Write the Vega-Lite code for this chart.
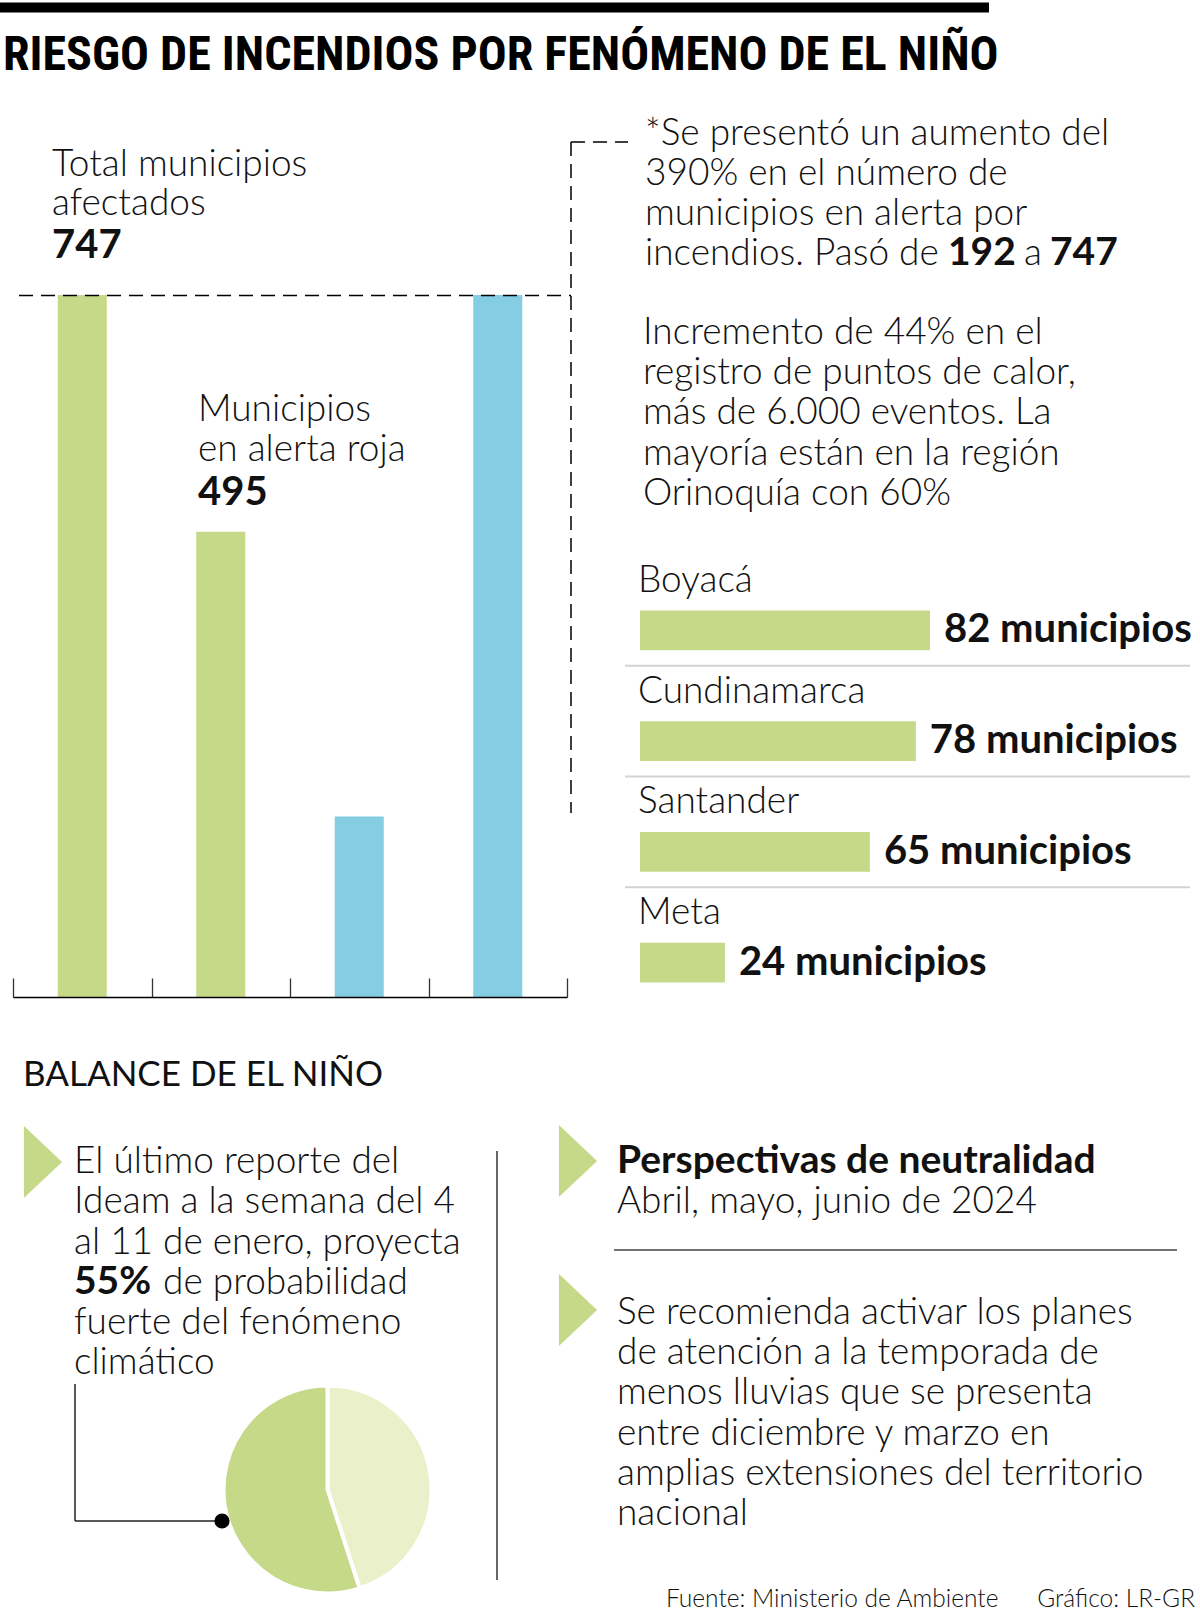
{
  "$schema": "https://vega.github.io/schema/vega-lite/v6.json",
  "width": 1200,
  "height": 1619,
  "autosize": "none",
  "padding": 0,
  "background": "#ffffff",
  "config": {
    "view": {"stroke": null},
    "text": {"font": "Lato", "fontWeight": 300, "fontSize": 37, "color": "#111111", "align": "left", "baseline": "alphabetic"}
  },
  "data": {"values": [{}]},
  "datasets": {
    "municipios": [
      {"indicador": "Total municipios afectados", "grupo": "Balance", "valor": 747},
      {"indicador": "Municipios en alerta roja", "grupo": "Balance", "valor": 495},
      {"indicador": "Alerta por incendios (antes)", "grupo": "Alerta por incendios", "valor": 192},
      {"indicador": "Alerta por incendios (ahora)", "grupo": "Alerta por incendios", "valor": 747}
    ],
    "departamentos": [
      {"departamento": "Boyacá", "municipios": 82, "etiqueta": "82 municipios"},
      {"departamento": "Cundinamarca", "municipios": 78, "etiqueta": "78 municipios"},
      {"departamento": "Santander", "municipios": 65, "etiqueta": "65 municipios"},
      {"departamento": "Meta", "municipios": 24, "etiqueta": "24 municipios"}
    ],
    "probabilidad": [
      {"escenario": "Otros escenarios", "porcentaje": 45},
      {"escenario": "El Niño fuerte", "porcentaje": 55}
    ]
  },
  "layer": [
    {"mark": {"type": "rule", "strokeWidth": 10, "color": "#000000"}, "encoding": {"x": {"value": 0}, "x2": {"value": 989}, "y": {"value": 7.5}}},
    {"mark": {"type": "text", "text": "RIESGO DE INCENDIOS POR FENÓMENO DE EL NIÑO", "font": "Liberation Sans Narrow, Noto Sans Condensed, Roboto Condensed, DejaVu Sans Condensed, sans-serif", "fontWeight": "bold", "fontSize": 48, "color": "#000000"}, "encoding": {"x": {"value": 3}, "y": {"value": 70}}},
    {
      "data": {"name": "municipios"},
      "mark": {"type": "bar", "width": {"band": 0.354}},
      "encoding": {
        "x": {"field": "indicador", "type": "nominal", "sort": null,
              "scale": {"type": "band", "domain": ["Total municipios afectados", "Municipios en alerta roja", "Alerta por incendios (antes)", "Alerta por incendios (ahora)"], "range": [13, 567], "paddingInner": 0, "paddingOuter": 0},
              "axis": {"orient": "top", "offset": -997, "labels": false, "title": null, "grid": false, "tickBand": "extent", "tickSize": 19, "tickColor": "#333333", "tickWidth": 1.3, "domainColor": "#000000", "domainWidth": 1.5, "zindex": 1}},
        "y": {"field": "valor", "type": "quantitative", "scale": {"domain": [0, 747], "range": [997, 295], "nice": false}, "axis": null},
        "color": {"field": "grupo", "type": "nominal", "scale": {"domain": ["Balance", "Alerta por incendios"], "range": ["#C5D988", "#85CDE3"]}, "legend": null}
      }
    },
    {
      "data": {"name": "municipios"},
      "transform": [{"filter": "datum.indicador == 'Total municipios afectados'"}],
      "mark": {"type": "text", "fontWeight": "bold", "fontSize": 40, "dx": 39, "dy": -37},
      "encoding": {
        "x": {"field": "indicador", "type": "nominal", "sort": null, "bandPosition": 0,
              "scale": {"type": "band", "domain": ["Total municipios afectados", "Municipios en alerta roja", "Alerta por incendios (antes)", "Alerta por incendios (ahora)"], "range": [13, 567], "paddingInner": 0, "paddingOuter": 0}, "axis": null},
        "y": {"field": "valor", "type": "quantitative", "scale": {"domain": [0, 747], "range": [997, 295], "nice": false}, "axis": null},
        "text": {"field": "valor", "type": "quantitative"}
      }
    },
    {
      "data": {"name": "municipios"},
      "transform": [{"filter": "datum.indicador == 'Municipios en alerta roja'"}],
      "mark": {"type": "text", "fontWeight": "bold", "fontSize": 40, "dx": 46.5, "dy": -27},
      "encoding": {
        "x": {"field": "indicador", "type": "nominal", "sort": null, "bandPosition": 0,
              "scale": {"type": "band", "domain": ["Total municipios afectados", "Municipios en alerta roja", "Alerta por incendios (antes)", "Alerta por incendios (ahora)"], "range": [13, 567], "paddingInner": 0, "paddingOuter": 0}, "axis": null},
        "y": {"field": "valor", "type": "quantitative", "scale": {"domain": [0, 747], "range": [997, 295], "nice": false}, "axis": null},
        "text": {"field": "valor", "type": "quantitative"}
      }
    },
    {"mark": {"type": "text", "lineHeight": 39, "text": ["Total municipios", "afectados"]}, "encoding": {"x": {"value": 52}, "y": {"value": 176}}},
    {"mark": {"type": "text", "lineHeight": 40, "text": ["Municipios", "en alerta roja"]}, "encoding": {"x": {"value": 198}, "y": {"value": 421}}},
    {"mark": {"type": "rule", "strokeWidth": 1.5, "strokeDash": [14, 8], "color": "#000000"}, "encoding": {"x": {"value": 19}, "x2": {"value": 571}, "y": {"value": 295.5}}},
    {"mark": {"type": "rule", "strokeWidth": 1.5, "strokeDash": [14, 8], "color": "#000000"}, "encoding": {"x": {"value": 571}, "y": {"value": 142}, "y2": {"value": 813}}},
    {"mark": {"type": "rule", "strokeWidth": 1.5, "strokeDash": [14, 8], "color": "#000000"}, "encoding": {"x": {"value": 571}, "x2": {"value": 628}, "y": {"value": 142}}},
    {"mark": {"type": "text", "lineHeight": 40, "text": ["*Se presentó un aumento del", "390% en el número de", "municipios en alerta por", "incendios. Pasó de"]}, "encoding": {"x": {"value": 645}, "y": {"value": 145}}},
    {"mark": {"type": "text", "fontWeight": "bold", "fontSize": 39, "text": "192"}, "encoding": {"x": {"value": 948}, "y": {"value": 265}}},
    {"mark": {"type": "text", "text": "a"}, "encoding": {"x": {"value": 1024}, "y": {"value": 265}}},
    {"mark": {"type": "text", "fontWeight": "bold", "fontSize": 39, "text": "747"}, "encoding": {"x": {"value": 1050}, "y": {"value": 265}}},
    {"mark": {"type": "text", "lineHeight": 40.2, "text": ["Incremento de 44% en el", "registro de puntos de calor,", "más de 6.000 eventos. La", "mayoría están en la región", "Orinoquía con 60%"]}, "encoding": {"x": {"value": 643}, "y": {"value": 344}}},
    {
      "data": {"name": "departamentos"},
      "transform": [{"filter": "datum.departamento != 'Meta'"}],
      "mark": {"type": "rule", "color": "#D3D3D3", "strokeWidth": 2},
      "encoding": {
        "x": {"value": 625}, "x2": {"value": 1190},
        "y": {"field": "departamento", "type": "nominal", "sort": null, "bandPosition": 0.82,
              "scale": {"type": "band", "domain": ["Boyacá", "Cundinamarca", "Santander", "Meta"], "range": [575, 1018], "paddingInner": 0, "paddingOuter": 0}, "axis": null}
      }
    },
    {
      "data": {"name": "departamentos"},
      "mark": {"type": "bar", "height": {"band": 0.36}, "color": "#C5D988"},
      "encoding": {
        "y": {"field": "departamento", "type": "nominal", "sort": null,
              "scale": {"type": "band", "domain": ["Boyacá", "Cundinamarca", "Santander", "Meta"], "range": [575, 1018], "paddingInner": 0, "paddingOuter": 0}, "axis": null},
        "x": {"field": "municipios", "type": "quantitative", "scale": {"domain": [0, 82], "range": [640, 930], "nice": false}, "axis": null}
      }
    },
    {
      "data": {"name": "departamentos"},
      "mark": {"type": "text", "dy": -38.5},
      "encoding": {
        "x": {"value": 638},
        "y": {"field": "departamento", "type": "nominal", "sort": null,
              "scale": {"type": "band", "domain": ["Boyacá", "Cundinamarca", "Santander", "Meta"], "range": [575, 1018], "paddingInner": 0, "paddingOuter": 0}, "axis": null},
        "text": {"field": "departamento", "type": "nominal"}
      }
    },
    {
      "data": {"name": "departamentos"},
      "mark": {"type": "text", "dx": 14, "dy": 12, "fontWeight": "bold", "fontSize": 40},
      "encoding": {
        "y": {"field": "departamento", "type": "nominal", "sort": null,
              "scale": {"type": "band", "domain": ["Boyacá", "Cundinamarca", "Santander", "Meta"], "range": [575, 1018], "paddingInner": 0, "paddingOuter": 0}, "axis": null},
        "x": {"field": "municipios", "type": "quantitative", "scale": {"domain": [0, 82], "range": [640, 930], "nice": false}, "axis": null},
        "text": {"field": "etiqueta", "type": "nominal"}
      }
    },
    {"mark": {"type": "text", "fontWeight": 400, "fontSize": 35, "text": "BALANCE DE EL NIÑO"}, "encoding": {"x": {"value": 23}, "y": {"value": 1086}}},
    {"mark": {"type": "point", "shape": "M -0.53 -1 L 0.53 0 L -0.53 1 Z", "size": 5184, "filled": true, "color": "#C5D988", "opacity": 1}, "encoding": {"x": {"value": 43}, "y": {"value": 1162}}},
    {"mark": {"type": "point", "shape": "M -0.53 -1 L 0.53 0 L -0.53 1 Z", "size": 5184, "filled": true, "color": "#C5D988", "opacity": 1}, "encoding": {"x": {"value": 578}, "y": {"value": 1161}}},
    {"mark": {"type": "point", "shape": "M -0.53 -1 L 0.53 0 L -0.53 1 Z", "size": 5184, "filled": true, "color": "#C5D988", "opacity": 1}, "encoding": {"x": {"value": 578}, "y": {"value": 1310}}},
    {"mark": {"type": "text", "lineHeight": 40.3, "text": ["El último reporte del", "Ideam a la semana del 4", "al 11 de enero, proyecta"]}, "encoding": {"x": {"value": 74}, "y": {"value": 1173}}},
    {"mark": {"type": "text", "fontWeight": "bold", "fontSize": 39, "text": "55%"}, "encoding": {"x": {"value": 74}, "y": {"value": 1294}}},
    {"mark": {"type": "text", "text": "de probabilidad"}, "encoding": {"x": {"value": 163}, "y": {"value": 1294}}},
    {"mark": {"type": "text", "lineHeight": 40.3, "text": ["fuerte del fenómeno", "climático"]}, "encoding": {"x": {"value": 74}, "y": {"value": 1334}}},
    {"mark": {"type": "rule", "strokeWidth": 2, "color": "#666666"}, "encoding": {"x": {"value": 497}, "y": {"value": 1151}, "y2": {"value": 1580}}},
    {"mark": {"type": "text", "fontWeight": "bold", "fontSize": 39, "text": "Perspectivas de neutralidad"}, "encoding": {"x": {"value": 617}, "y": {"value": 1173}}},
    {"mark": {"type": "text", "text": "Abril, mayo, junio de 2024"}, "encoding": {"x": {"value": 617}, "y": {"value": 1213}}},
    {"mark": {"type": "rule", "strokeWidth": 1.5, "color": "#444444"}, "encoding": {"x": {"value": 614}, "x2": {"value": 1177}, "y": {"value": 1250}}},
    {"mark": {"type": "text", "lineHeight": 40.2, "text": ["Se recomienda activar los planes", "de atención a la temporada de", "menos lluvias que se presenta", "entre diciembre y marzo en", "amplias extensiones del territorio", "nacional"]}, "encoding": {"x": {"value": 617}, "y": {"value": 1324}}},
    {
      "data": {"name": "probabilidad"},
      "mark": {"type": "arc", "radius": 104, "stroke": "#ffffff", "strokeWidth": 4},
      "encoding": {
        "x": {"value": 327.5}, "y": {"value": 1489.5},
        "theta": {"field": "porcentaje", "type": "quantitative", "stack": true},
        "order": {"field": "porcentaje", "type": "quantitative", "sort": "ascending"},
        "color": {"field": "escenario", "type": "nominal", "scale": {"domain": ["El Niño fuerte", "Otros escenarios"], "range": ["#C5D988", "#EAF0C9"]}, "legend": null}
      }
    },
    {"mark": {"type": "rule", "strokeWidth": 1.5, "color": "#222222"}, "encoding": {"x": {"value": 75}, "y": {"value": 1384}, "y2": {"value": 1521}}},
    {"mark": {"type": "rule", "strokeWidth": 1.5, "color": "#222222"}, "encoding": {"x": {"value": 75}, "x2": {"value": 222}, "y": {"value": 1521}}},
    {"mark": {"type": "point", "size": 230, "filled": true, "color": "#000000", "opacity": 1}, "encoding": {"x": {"value": 222}, "y": {"value": 1521}}},
    {"mark": {"type": "text", "fontSize": 24.5, "text": "Fuente: Ministerio de Ambiente"}, "encoding": {"x": {"value": 666}, "y": {"value": 1607}}},
    {"mark": {"type": "text", "fontSize": 24.5, "align": "right", "text": "Gráfico: LR-GR"}, "encoding": {"x": {"value": 1195}, "y": {"value": 1607}}}
  ],
  "resolve": {"scale": {"x": "independent", "y": "independent", "color": "independent"}}
}
